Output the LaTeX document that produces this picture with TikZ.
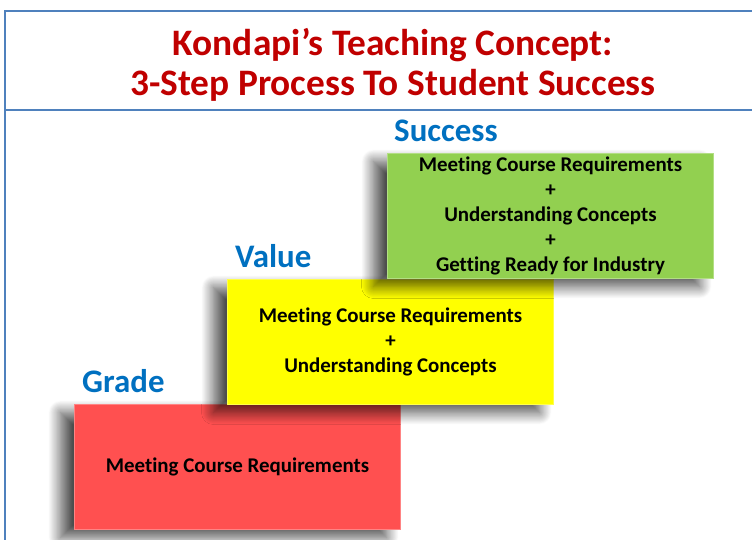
\documentclass[tikz,border=0pt]{standalone}
\usepackage{fontspec}
\setmainfont[Ligatures={NoCommon}]{Carlito}
\usepackage{xcolor}
\usetikzlibrary{positioning,shadows.blur}
\definecolor{titlered}{HTML}{C00000}
\definecolor{labelblue}{HTML}{0070C0}
\definecolor{stepgreen}{HTML}{92D050}
\definecolor{stepyellow}{HTML}{FFFF00}
\definecolor{stepred}{HTML}{FF5050}
\definecolor{frameblue}{HTML}{4F81BD}

\begin{document}
\begin{tikzpicture}[x=1bp,y=-1bp,
    stepbox/.style={anchor=north west, minimum width=326bp, minimum height=125bp,
      inner sep=0pt, align=center, line width=1bp,
      font=\bfseries\fontsize{21}{25}\selectfont,
      blur shadow={shadow xshift=-14bp, shadow yshift=-8bp,
        shadow blur radius=12bp, shadow blur steps=20, shadow opacity=70}},
    steplabel/.style={anchor=south west, inner sep=0pt, text=labelblue,
      font=\bfseries\fontsize{33}{36}\selectfont},
    titletext/.style={align=center, inner sep=0pt,
      font=\bfseries\fontsize{37.5}{40}\selectfont},
    frameline/.style={line width=1.8bp, frameblue}]
    \useasboundingbox (0,0) rectangle (752,540);
    % Frame
    \draw[frameline] (752,11) -- (5,11) -- (5,540);
    \draw[frameline] (5,110) -- (752,110);
    %
    % Title
    \node[titletext, text=titlered] (title) at (393,65)
      {Kondapi’s Teaching Concept:\\3-Step Process To Student Success};
    %
    % Steps
    \node[stepbox, fill=stepred, draw=stepred!70!white] (grade) at (74,404)
      {Meeting Course Requirements};
    \node[stepbox, fill=stepyellow, draw=stepyellow!70!white] (value) at (227,279)
      {Meeting Course Requirements\\+\\Understanding Concepts};
    \node[stepbox, fill=stepgreen, draw=stepgreen!70!white] (success) at (387,153)
      {Meeting Course Requirements\\+\\Understanding Concepts\\+\\Getting Ready for Industry};
    %
    % Labels
    \node[steplabel, above right=11bp and 8bp of grade.north west] (gradelabel) {Grade};
    \node[steplabel, above right=11bp and 8bp of value.north west] (valuelabel) {Value};
    \node[steplabel, above right=11bp and 7bp of success.north west] (successlabel) {Success};
\end{tikzpicture}
\end{document}
